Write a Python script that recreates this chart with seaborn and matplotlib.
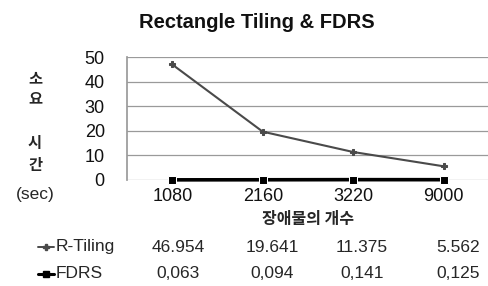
import pandas as pd
import matplotlib
matplotlib.use("Agg")
import matplotlib.pyplot as plt
import seaborn as sns

# ---------------- Data ----------------
counts = ["1080", "2160", "3220", "9000"]
r_tiling = [46.954, 19.641, 11.375, 5.562]
fdrs = [0.063, 0.094, 0.141, 0.125]
y_ticks = [0, 10, 20, 30, 40, 50]

df = pd.DataFrame({"count": counts * 2,
                   "time": r_tiling + fdrs,
                   "method": ["R-Tiling"] * 4 + ["FDRS"] * 4})

sns.set_theme(style="white")
plt.rcParams["font.family"] = ["Liberation Sans", "Noto Sans CJK KR", "DejaVu Sans"]

W, H = 489, 286
fig = plt.figure(figsize=(W / 100, H / 100), dpi=100)
ax = fig.add_axes([127 / W, 1 - 180 / H, (W - 127) / W, 123 / H])

sns.lineplot(data=df[df.method == "R-Tiling"], x="count", y="time", ax=ax,
             color="#4a4a4a", lw=1.5, marker="P", markersize=5, mec="#4a4a4a")
sns.lineplot(data=df[df.method == "FDRS"], x="count", y="time", ax=ax,
             color="black", lw=2.6, marker="s", markersize=6, clip_on=False)

ax.set_xlim(-0.5, 3.5)
ax.set_ylim(0, 50)
ax.set_yticks(y_ticks)
ax.yaxis.grid(True, color="#9a9a9a", lw=0.9)
ax.set_axisbelow(True)
for s in ["top", "right", "bottom"]:
    ax.spines[s].set_visible(False)
ax.spines["left"].set_color("#9a9a9a")
ax.tick_params(axis="y", length=0, pad=16, labelsize=13)
ax.tick_params(axis="x", length=0, pad=6, labelsize=13)
for lbl in ax.get_xticklabels() + ax.get_yticklabels():
    lbl.set_color("#111111")
ax.set_xlabel("")
ax.set_ylabel("")

def fx(px):
    return px / W

def fy(py):
    return 1 - py / H

fig.text(fx(257), fy(22), "Rectangle Tiling & FDRS", ha="center", va="center",
         fontsize=14.5, fontweight="bold", color="#111111")

# vertical korean y label
for ch, py in zip(["소", "요", "시", "간"], [78, 98, 143, 165]):
    fig.text(fx(35), fy(py), ch, ha="center", va="center", fontsize=11,
             fontweight="bold", family=["Noto Sans CJK KR"])
fig.text(fx(35), fy(195), "(sec)", ha="center", va="center", fontsize=12.5)

fig.text(fx(308), fy(219), "장애물의 개수", ha="center", va="center", fontsize=11.5,
         fontweight="bold", family=["Noto Sans CJK KR"])

# data table below chart
row_y = [247, 274]
col_x = [178, 272, 362, 458]
names = ["R-Tiling", "FDRS"]
for name, vals, py in zip(names, [r_tiling, fdrs], row_y):
    fig.text(fx(56), fy(py), name, ha="left", va="center", fontsize=12.5)
    for v, px in zip(vals, col_x):
        txt = f"{v:.3f}"
        if name == "FDRS":
            txt = txt.replace(".", ",")
        fig.text(fx(px), fy(py), txt, ha="center", va="center", fontsize=12.5)

# legend keys
kx = [fx(38), fx(54)]
fig.add_artist(plt.Line2D(kx, [fy(247)] * 2, color="#4a4a4a", lw=1.4))
fig.add_artist(plt.Line2D([fx(46)], [fy(247)], color="#4a4a4a", marker="P", markersize=5))
fig.add_artist(plt.Line2D(kx, [fy(274)] * 2, color="black", lw=2.2))
fig.add_artist(plt.Line2D([fx(46)], [fy(274)], color="black", marker="s", markersize=5))

fig.savefig("out.png", dpi=100)
